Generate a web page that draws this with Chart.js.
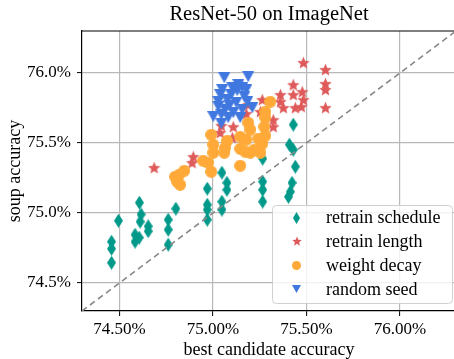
<!DOCTYPE html>
<html>
<head>
<meta charset="utf-8">
<script src="https://cdn.jsdelivr.net/npm/chart.js@4/dist/chart.umd.min.js"></script>
<style>
  html, body { margin: 0; padding: 0; background: #fff; overflow: hidden; }
</style>
</head>
<body>
<canvas id="soupChart" width="456" height="359"></canvas>
<script>
// tick positions
const xTicks = [74.5, 75.0, 75.5, 76.0];
const yTicks = [74.5, 75.0, 75.5, 76.0];

// retrain schedule
const scheduleX = [74.458, 74.458, 74.458, 74.495, 74.607, 74.616, 74.611, 74.584, 74.584, 74.606, 74.654, 74.654,
    74.761, 74.761, 74.761, 74.802, 74.970, 74.970, 74.970, 74.970, 75.048, 75.048, 75.048, 75.075, 75.075,
    75.266, 75.266, 75.266, 75.266, 75.430, 75.430, 75.409, 75.441, 75.423, 75.414, 75.404];
const scheduleY = [74.795, 74.745, 74.645, 74.945, 75.074, 74.990, 74.938, 74.845, 74.795, 74.824, 74.905, 74.870,
    74.952, 74.881, 74.774, 75.031, 75.174, 75.059, 75.024, 74.952, 75.288, 75.081, 75.024, 75.216, 75.166,
    75.388, 75.224, 75.166, 75.081, 75.631, 75.452, 75.488, 75.331, 75.216, 75.152, 75.116];

// retrain length
const lengthX = [75.484, 75.602, 75.602, 75.602, 75.602, 75.430, 75.430, 75.478, 75.484, 75.473, 75.441, 75.361,
    75.361, 75.377, 75.264, 75.323, 75.323, 75.189, 75.179, 75.109, 75.104, 75.045, 75.039, 74.895, 74.889,
    74.686, 75.254];
const lengthY = [76.074, 76.024, 75.924, 75.881, 75.752, 75.916, 75.845, 75.866, 75.809, 75.759, 75.752, 75.845,
    75.795, 75.752, 75.809, 75.666, 75.616, 75.774, 75.709, 75.616, 75.538, 75.624, 75.574, 75.402, 75.359,
    75.324, 75.724];

// weight decay
const decayX = [75.307, 75.280, 75.280, 75.275, 75.280, 75.264, 75.221, 75.200, 75.189, 75.146, 75.146, 75.146,
    75.200, 75.076, 75.065, 75.061, 74.991, 75.002, 75.002, 74.975, 74.991, 74.948, 74.847, 74.820, 74.798,
    74.809, 74.825, 75.179, 75.254, 75.243, 75.173];
const decayY = [75.795, 75.724, 75.681, 75.616, 75.552, 75.495, 75.452, 75.595, 75.645, 75.545, 75.459, 75.338,
    75.431, 75.516, 75.466, 75.431, 75.559, 75.488, 75.431, 75.359, 75.295, 75.374, 75.302, 75.274, 75.259,
    75.224, 75.202, 75.524, 75.431, 75.531, 75.438];

// random seed
const seedX = [75.061, 75.189, 75.039, 75.029, 75.098, 75.130, 75.157, 75.179, 75.125, 75.088, 75.066, 75.045,
    75.002, 75.045, 75.109, 75.157, 75.184, 75.146, 75.029, 75.211, 75.136, 75.077, 75.104, 75.050, 75.168, 75.082];
const seedY = [75.966, 75.974, 75.845, 75.795, 75.845, 75.874, 75.895, 75.881, 75.788, 75.766, 75.738, 75.702,
    75.688, 75.638, 75.716, 75.738, 75.795, 75.681, 75.759, 75.752, 75.916, 75.809, 75.895, 75.881, 75.831, 75.681];

const axisMin = 74.3;
const axisMax = 76.3;

const FONT = "'Liberation Serif', 'DejaVu Serif', serif";
Chart.defaults.font.family = FONT;
Chart.defaults.color = '#000';

function pts(xs, ys) {
    return xs.map((x, i) => ({ x: x, y: ys[i] }));
}

// small canvases used as point styles (matplotlib-like markers)
function marker(shape, color, w, h) {
    const c = document.createElement('canvas');
    c.width = w;
    c.height = h;
    const g = c.getContext('2d');
    g.fillStyle = color;
    g.beginPath();
    if (shape === 'diamond') {
        g.moveTo(w / 2, 0);
        g.lineTo(w, h / 2);
        g.lineTo(w / 2, h);
        g.lineTo(0, h / 2);
    } else if (shape === 'star') {
        const R = w / 2, r = R * 0.45;
        for (let i = 0; i < 10; i++) {
            const a = -Math.PI / 2 + i * Math.PI / 5;
            const rad = i % 2 === 0 ? R : r;
            const px = w / 2 + rad * Math.cos(a);
            const py = h / 2 + 0.6 + rad * Math.sin(a);
            if (i === 0) g.moveTo(px, py); else g.lineTo(px, py);
        }
    } else if (shape === 'circle') {
        g.arc(w / 2, h / 2, w / 2, 0, Math.PI * 2);
    } else if (shape === 'tri') {
        g.moveTo(0, 0);
        g.lineTo(w, 0);
        g.lineTo(w / 2, h);
    }
    g.closePath();
    g.fill();
    return c;
}

const TEAL = '#00998a';
const RED = '#df5a5a';
const ORANGE = '#ffaa38';
const BLUE = '#4178df';

const series = [
    { label: 'retrain schedule', data: pts(scheduleX, scheduleY), img: marker('diamond', TEAL, 9, 14), leg: marker('diamond', TEAL, 7, 12) },
    { label: 'retrain length', data: pts(lengthX, lengthY), img: marker('star', RED, 13, 13), leg: marker('star', RED, 10, 10) },
    { label: 'weight decay', data: pts(decayX, decayY), img: marker('circle', ORANGE, 12, 12), leg: marker('circle', ORANGE, 9, 9) },
    { label: 'random seed', data: pts(seedX, seedY), img: marker('tri', BLUE, 12, 11), leg: marker('tri', BLUE, 9, 8) }
];

// top spine + legend box in the lower right
const framePlugin = {
    id: 'frame',
    afterDraw(chart) {
        const ctx = chart.ctx;
        const a = chart.chartArea;
        ctx.save();
        ctx.strokeStyle = '#000';
        ctx.lineWidth = 1.2;
        ctx.beginPath();
        ctx.moveTo(a.left, a.top);
        ctx.lineTo(a.right, a.top);
        ctx.stroke();

        const bx = a.left + 190, by = a.bottom - 106, bw = 180, bh = 98;
        ctx.fillStyle = 'rgba(255,255,255,0.8)';
        ctx.strokeStyle = '#d0d0d0';
        ctx.lineWidth = 1;
        ctx.beginPath();
        ctx.roundRect(bx + 0.5, by + 0.5, bw, bh, 4);
        ctx.fill();
        ctx.stroke();

        ctx.font = '18px ' + FONT;
        ctx.fillStyle = '#000';
        ctx.textBaseline = 'middle';
        series.forEach((s, i) => {
            const cy = by + 12.5 + i * 23.9;
            ctx.drawImage(s.leg, Math.round(bx + 24.5 - s.leg.width / 2), Math.round(cy - s.leg.height / 2));
            ctx.fillText(s.label, bx + 54, cy + 1);
        });
        ctx.restore();
    }
};

new Chart(document.getElementById('soupChart'), {
    type: 'scatter',
    data: {
        datasets: [
            {
                type: 'line',
                label: 'y = x',
                data: [{ x: axisMin, y: axisMin }, { x: axisMax, y: axisMax }],
                borderColor: '#888888',
                borderWidth: 1.6,
                borderDash: [6, 4],
                pointRadius: 0,
                fill: false,
                order: 0
            },
            ...series.map((s, i) => ({
                label: s.label,
                data: s.data,
                pointStyle: s.img,
                pointRadius: 6,
                order: 4 - i
            }))
        ]
    },
    options: {
        responsive: false,
        animation: false,
        layout: { padding: 0, autoPadding: false },
        plugins: {
            legend: { display: false },
            tooltip: { enabled: false },
            title: {
                display: true,
                text: 'ResNet-50 on ImageNet',
                fullSize: false,
                color: '#000',
                font: { size: 20.5, weight: 'normal' },
                padding: { top: 2, bottom: 4.4 }
            }
        },
        scales: {
            x: {
                type: 'linear',
                min: axisMin,
                max: axisMax,
                afterBuildTicks: s => { s.ticks = xTicks.map(v => ({ value: v })); },
                afterFit: s => { s.height = 48; s.paddingLeft = 0; s.paddingRight = 0; },
                ticks: {
                    callback: v => v.toFixed(2) + '%',
                    font: { size: 17 },
                    color: '#000',
                    padding: 3,
                    maxRotation: 0
                },
                grid: { color: '#b8b8b8', lineWidth: 1.2, tickColor: '#000', tickLength: 5, tickWidth: 1 },
                border: { color: '#000', width: 1.2 },
                title: {
                    display: true,
                    text: 'best candidate accuracy',
                    color: '#000',
                    font: { size: 18, lineHeight: 1 },
                    padding: { top: 0, bottom: 0 }
                }
            },
            y: {
                type: 'linear',
                min: axisMin,
                max: axisMax,
                afterBuildTicks: s => { s.ticks = yTicks.map(v => ({ value: v })); },
                afterFit: s => { s.width = 82; s.paddingTop = 0; s.paddingBottom = 0; },
                ticks: {
                    callback: v => v.toFixed(1) + '%',
                    font: { size: 17 },
                    color: '#000',
                    padding: 6
                },
                grid: { color: '#b8b8b8', lineWidth: 1.2, tickColor: '#000', tickLength: 5, tickWidth: 1 },
                border: { color: '#000', width: 1.2 },
                title: {
                    display: true,
                    text: 'soup accuracy',
                    color: '#000',
                    font: { size: 18, lineHeight: 1 },
                    padding: { top: 6, bottom: 0 }
                }
            }
        }
    },
    plugins: [framePlugin]
});
</script>
</body>
</html>
